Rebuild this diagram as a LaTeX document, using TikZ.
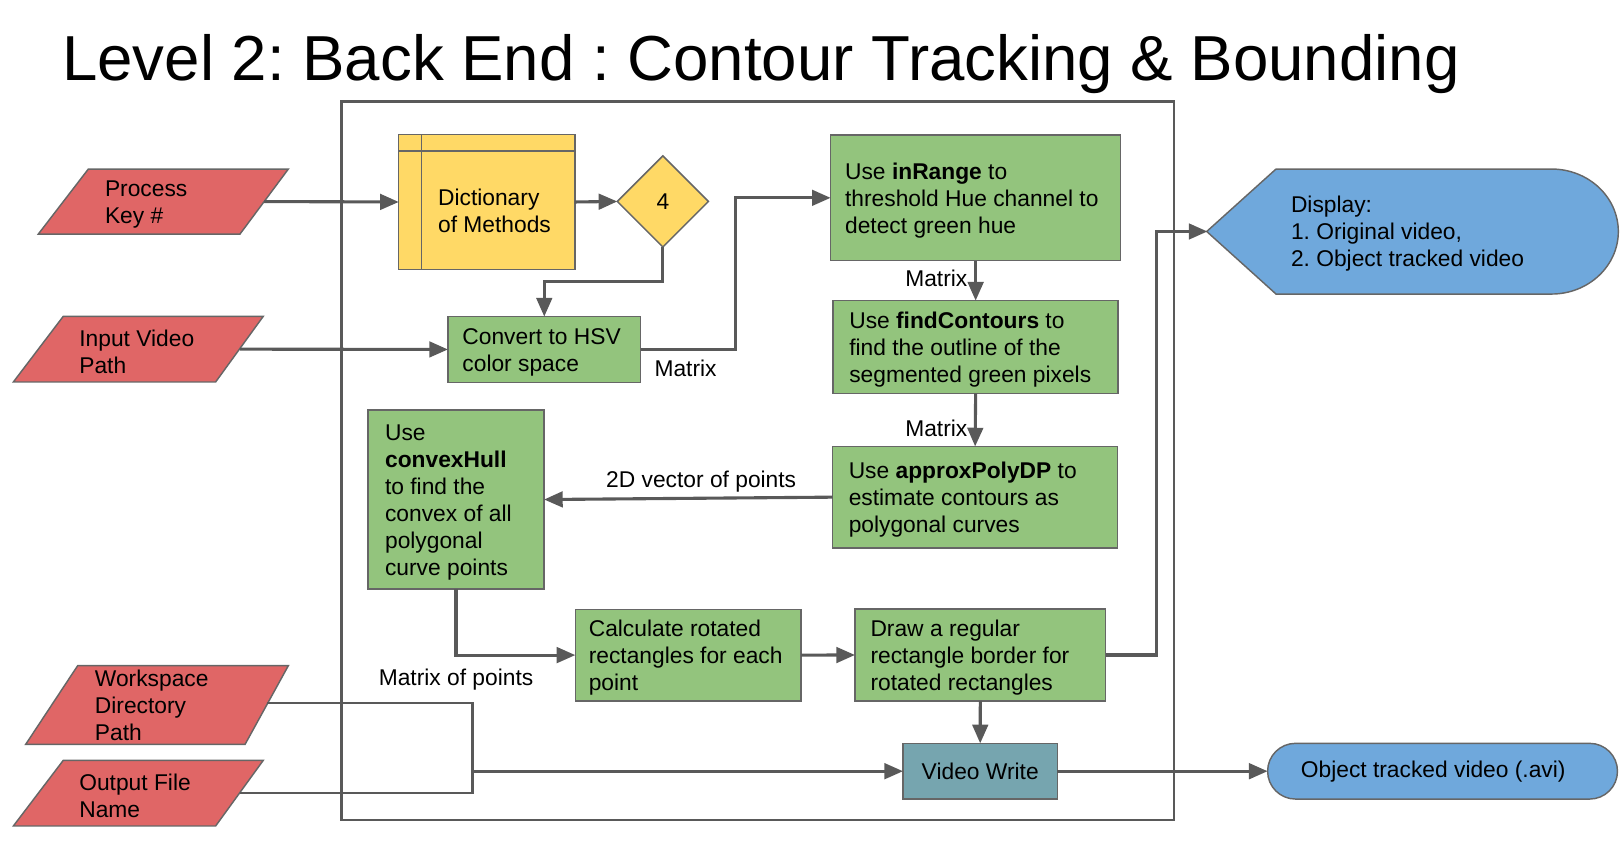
\documentclass[tikz,border=0pt]{standalone}
\usepackage{fontspec}
\setmainfont{Liberation Sans}
\usetikzlibrary{arrows.meta,shapes.geometric,shapes.misc}
\definecolor{redf}{HTML}{E06666}
\definecolor{greenf}{HTML}{93C47D}
\definecolor{yellowf}{HTML}{FFD966}
\definecolor{bluef}{HTML}{6FA8DC}
\definecolor{tealf}{HTML}{76A5AF}
\definecolor{edge}{HTML}{666666}
\definecolor{wire}{HTML}{595959}
\AtBeginDocument{\frenchspacing}
\begin{document}
\begin{tikzpicture}[x=0.5pt,y=-0.5pt,
  every node/.style={inner sep=0pt, outer sep=0pt},
  body/.style={font=\fontsize{11}{13}\selectfont, execute at begin node={\spaceskip=0pt\relax\xspaceskip=0pt\relax}},
  multiline/.style={body, align=flush left, execute at begin node={\spaceskip=0pt\relax\xspaceskip=0pt\relax\rule{0pt}{10.3pt}}},
  greenbox/.style={multiline, draw=edge, line width=0.7pt, fill=greenf},
  paratext/.style={multiline},
  paral/.style={draw=edge, line width=0.7pt, fill=redf},
  arr/.style={draw=wire, line width=1.5pt, -{Triangle[length=9pt,width=7.5pt]}},
  wireline/.style={draw=wire, line width=1.2pt},
  framebox/.style={draw=wire, line width=1.2pt}]

\useasboundingbox (0,0) rectangle (1568,815);

\node[font=\fontsize{30.7}{36}\selectfont, anchor=base west] (title) at (60,78) {Level 2: Back End : Contour Tracking \& Bounding};

\draw[framebox] (329.5,98.2) rectangle (1133.5,791.7);

% input parallelograms
\path[paral] (85.3,163.2) -- (278.4,163.2) -- (231.7,226) -- (37,226) -- cycle;
\node[paratext, minimum width=96.9pt, minimum height=31.4pt, text width=56.7pt] (pk) at (158.1,194.6) {Process\\Key \#};

\path[paral] (61.1,305.4) -- (254.2,305.4) -- (208.2,368.8) -- (12.9,368.8) -- cycle;
\node[paratext, minimum width=97.1pt, minimum height=31.7pt, text width=58pt] (iv) at (134.6,337.1) {Input Video\\Path};

\path[paral] (75,642.7) -- (278.4,642.7) -- (236.6,718.7) -- (24.8,718.7) -- cycle;
\node[paratext, minimum width=103.8pt, minimum height=38pt, text width=62pt] (wd) at (153.7,678.7) {Workspace\\Directory\\Path};

\path[paral] (61.1,734.1) -- (254.2,734.1) -- (208.2,797.5) -- (12.9,797.5) -- cycle;
\node[paratext, minimum width=97.1pt, minimum height=31.7pt, text width=58pt] (of) at (134.6,765.8) {Output File\\Name};

% display shape
\path[draw=edge, line width=0.7pt, fill=bluef] (1165.1,223.5) -- (1232,163.2) -- (1498,163.2)
  arc[start angle=90, end angle=-90, x radius=32.25pt, y radius=30.175pt] -- (1232,283.9) -- cycle;
\node[paratext, minimum width=198.7pt, minimum height=60.35pt, text width=118pt] (disp) at (1364.5,223.5) {Display:\\1. Original video,\\2. Object tracked video};

% dictionary
\node[draw=edge, line width=0.7pt, fill=yellowf, minimum width=85pt, minimum height=65pt] (dict) at (470,195) {};
\draw[draw=edge, line width=0.7pt] ([xshift=11pt]dict.north west) -- ([xshift=11pt]dict.south west)
  ([yshift=-8pt]dict.north west) -- ([yshift=-8pt]dict.north east);
\node[paratext, anchor=west] (dictlabel) at (423,204) {Dictionary\\of Methods};

\node[diamond, body, draw=edge, line width=0.7pt, fill=yellowf, minimum width=44pt, minimum height=44pt] (dec) at (640,194.5) {4};

% process boxes
\node[greenbox, minimum width=93pt, minimum height=31.75pt, text width=79pt] (hsv) at (525.5,337.4) {Convert to HSV\\color space};
\node[greenbox, minimum width=140pt, minimum height=60.75pt, text width=126pt] (inr) at (942,191) {Use \textbf{inRange} to\\threshold Hue channel to\\detect green hue};
\node[greenbox, minimum width=137.6pt, minimum height=44.75pt, text width=122pt] (fc) at (942,335) {Use \textbf{findContours} to\\find the outline of the\\segmented green pixels};
\node[greenbox, minimum width=137.5pt, minimum height=49pt, text width=122pt] (apd) at (941.5,480) {Use \textbf{approxPolyDP} to\\estimate contours as\\polygonal curves};
\node[greenbox, minimum width=85pt, minimum height=86.4pt, text width=68.5pt] (cvx) at (440.3,482.3) {Use\\\textbf{convexHull}\\to find the\\convex of all\\polygonal\\curve points};
\node[greenbox, minimum width=109pt, minimum height=44.25pt, text width=96pt] (calc) at (664.5,632.5) {Calculate rotated\\rectangles for each\\point};
\node[greenbox, minimum width=121pt, minimum height=44.4pt, text width=106pt] (drw) at (946.5,632.4) {Draw a regular\\rectangle border for\\rotated rectangles};
\node[body, draw=edge, line width=0.7pt, fill=tealf, minimum width=74.5pt, minimum height=26.9pt] (vw) at (946.4,744.6) {Video Write};
\node[body, rounded rectangle, draw=edge, line width=0.7pt, fill=bluef, minimum width=168.9pt, minimum height=26.9pt] (otv) at (1392.8,744.6) {Object tracked video (.avi)\rule{9pt}{0pt}};

% connectors
\draw[arr] (pk.east) -- (dict.west);
\draw[arr] (iv.east) -- (hsv.west);
\draw[arr] (dict.east) -- (dec.west);
\draw[arr] (dec.south) -- ++(0,33.5) -| (hsv.north);
\draw[arr] (hsv.east) -- ++(91.5,0) |- (inr.west);
\draw[arr] (inr.south) -- (fc.north);
\draw[arr] (fc.south) -- (apd.north);
\draw[arr] (apd.west) -- (cvx.east);
\draw[arr] (cvx.south) |- (calc.west);
\draw[arr] (calc.east) -- (drw.west);
\draw[arr] (drw.east) -- ++(49,0) |- (disp.west);
\draw[arr] (drw.south) -- (vw.north);
\draw[arr] (vw.east) -- (otv.west);
\coordinate (jn) at (456,744.6);
\draw[wireline] (wd.east) -| (jn) |- (of.east);
\draw[arr] (jn) -- (vw.west);

% labels
\node[body, anchor=west] (m1) at (632,355.4) {Matrix};
\node[body, anchor=east] (m2) at (934,268.4) {Matrix};
\node[body, anchor=east] (m3) at (934,414) {Matrix};
\node[body] (m4) at (677,465) {2D vector of points};
\node[body] (m5) at (440.3,656.6) {Matrix of points};
\end{tikzpicture}
\end{document}
